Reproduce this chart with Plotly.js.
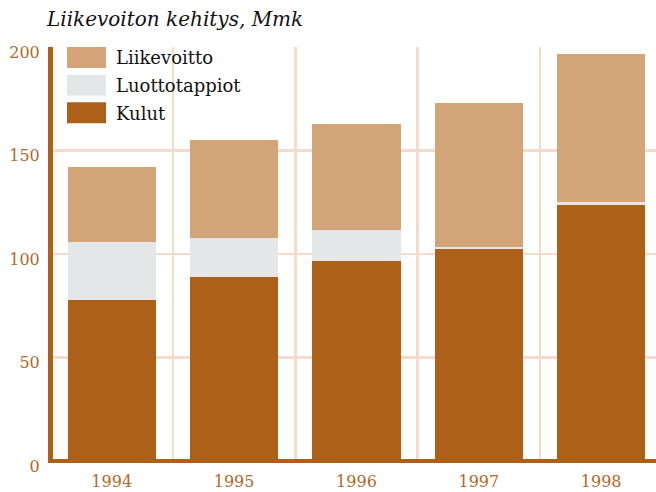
<!DOCTYPE html>
<html>
<head>
<meta charset="utf-8">
<script src="https://cdn.plot.ly/plotly-3.0.1.min.js"></script>
<style>html,body{margin:0;padding:0;background:#fff;}#chart{width:656px;height:492px;}</style>
</head>
<body>
<div id="chart"></div>
<script>
// ---- data ----
var years = ["1994", "1995", "1996", "1997", "1998"];
var kulut = [77.9, 88.7, 96.8, 102.6, 123.8];
var luottotappiot = [28.0, 18.8, 14.9, 0.6, 1.1];
var liikevoitto = [36.2, 47.7, 51.2, 69.8, 71.8];
var yTicks = [0, 50, 100, 150, 200];
var seriesNames = ["Kulut", "Luottotappiot", "Liikevoitto"];
var titleText = "Liikevoiton kehitys, Mmk";

// ---- style ----
var colors = {Kulut: "#ad6118", Luottotappiot: "#e5e6e8", Liikevoitto: "#d4a479"};
var tickColor = "#b06a2c";
var gridColor = "#f3dcc9";
var W = 656, H = 492;
var M = {l: 53, r: 0, t: 47, b: 28.6};
var plotW = W - M.l - M.r, plotH = H - M.t - M.b;
function px2paperX(px) { return (px - M.l) / plotW; }
function px2paperY(py) { return (H - M.b - py) / plotH; }

var valuesBy = {Kulut: kulut, Luottotappiot: luottotappiot, Liikevoitto: liikevoitto};
var traces = seriesNames.map(function (n) {
  return {
    type: "bar", name: n, x: years, y: valuesBy[n], width: 0.72,
    marker: {color: colors[n], line: {width: 0}},
    hoverinfo: "x+y+name", showlegend: false
  };
});

// custom legend (large swatches), top to bottom
var legendOrder = seriesNames.slice().reverse();
var shapes = [], annotations = [];
legendOrder.forEach(function (n, i) {
  var top = 47 + i * 27.7;
  shapes.push({type: "rect", xref: "paper", yref: "paper",
    x0: px2paperX(67), x1: px2paperX(106), y0: px2paperY(top + 21), y1: px2paperY(top),
    fillcolor: colors[n], line: {width: 0}, layer: "above"});
  annotations.push({xref: "paper", yref: "paper", x: px2paperX(114), y: px2paperY(top + 11),
    xanchor: "left", yanchor: "middle", showarrow: false, text: n,
    font: {family: "DejaVu Serif", size: 18, color: "#111"}});
});

var layout = {
  width: W, height: H, margin: M,
  paper_bgcolor: "#fff", plot_bgcolor: "#fff",
  barmode: "stack", bargap: 0.28,
  showlegend: false,
  title: {text: titleText, xref: "container", yref: "container",
    x: 47 / W, xanchor: "left", y: 1 - 19 / H, yanchor: "middle",
    font: {family: "DejaVu Serif", size: 20, style: "italic", color: "#111"}},
  xaxis: {type: "category", range: [-0.48, 4.448], tickson: "boundaries",
    showgrid: true, gridcolor: gridColor, gridwidth: 2.5,
    ticks: "", showline: false, zeroline: false, fixedrange: true,
    tickfont: {family: "DejaVu Serif", size: 16, color: tickColor},
    ticklabelstandoff: 7},
  yaxis: {range: [-1, 200], tickvals: yTicks, ticktext: yTicks.map(String),
    showgrid: true, gridcolor: gridColor, gridwidth: 2.5,
    zeroline: true, zerolinecolor: "#ad6118", zerolinewidth: 4.5,
    showline: true, linecolor: "#ad6118", linewidth: 5,
    ticks: "", fixedrange: true, ticklabelshift: 5, ticklabelstandoff: 5,
    tickfont: {family: "DejaVu Serif", size: 16, color: tickColor}},
  shapes: shapes, annotations: annotations
};

Plotly.newPlot("chart", traces, layout, {displayModeBar: false, staticPlot: true});
</script>
</body>
</html>
